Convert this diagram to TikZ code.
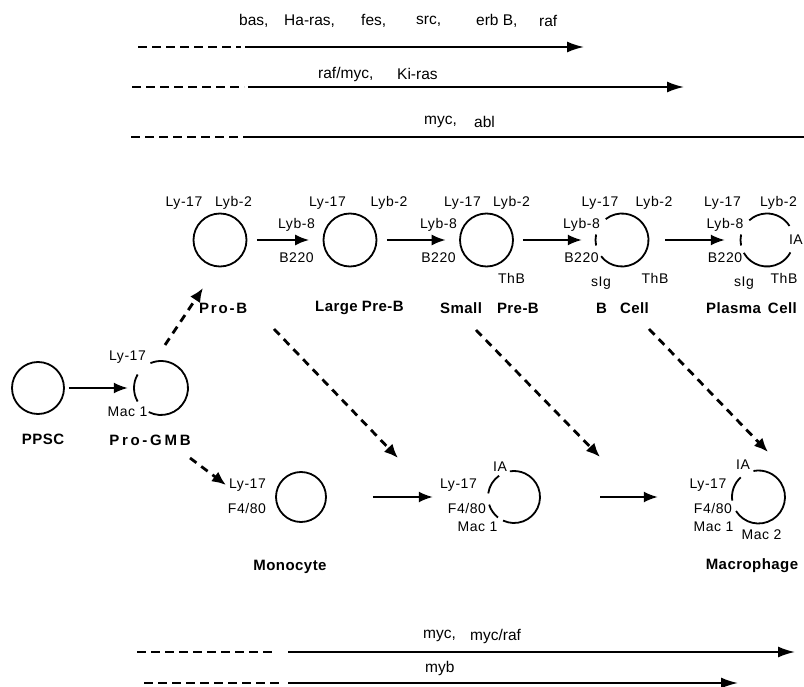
\documentclass[tikz,border=0pt]{standalone}
\usepackage{fontspec}
\setmainfont{Liberation Sans}
\newfontfamily\labfont[LetterSpace=4]{Liberation Sans}
\newfontfamily\namefont[LetterSpace=3]{Liberation Sans}
\newfontfamily\widefont[LetterSpace=12]{Liberation Sans}
\newfontfamily\widerfont[LetterSpace=18]{Liberation Sans}
\usetikzlibrary{arrows.meta}
\begin{document}
\begin{tikzpicture}[x=1pt,y=-1pt,
  gene/.style={font=\fontsize{15.5}{17}\selectfont, inner sep=0pt, anchor=west},
  mk/.style={font=\labfont\fontsize{14}{16}\selectfont, inner sep=0pt},
  cname/.style={font=\namefont\bfseries\fontsize{15}{17}\selectfont, inner sep=0pt},
  cellc/.style={circle, draw, line width=1.8pt, minimum size=53pt, inner sep=0pt},
  cellh/.style={circle, minimum size=53pt, inner sep=0pt},
  arr/.style={line width=1.9pt, -{Latex[length=14pt,width=11pt]}},
  darr/.style={line width=2.8pt, dash pattern=on 8pt off 6pt, -{Latex[length=14pt,width=12pt]}},
  gline/.style={line width=1.9pt},
  garr/.style={line width=1.9pt, -{Latex[length=17pt,width=11pt]}},
  gdash/.style={line width=1.9pt, dash pattern=on 9pt off 5pt},
  memb/.style={line width=1.8pt}
]
\useasboundingbox (0,0) rectangle (804,687);

% ---------- top oncogene lines ----------
\node[gene] (g1) at (239,21) {bas,};
\node[gene] (g2) at (284,21) {Ha-ras,};
\node[gene] (g3) at (361,21) {fes,};
\node[gene] (g4) at (416,21) {src,};
\node[gene] (g5) at (476,21) {erb B,};
\node[gene] (g6) at (539,21) {raf};
\coordinate (l1a) at (138,47); \coordinate (l1b) at (245,47); \coordinate (l1c) at (584,47);
\draw[gdash] (l1a) -- (241,47);
\draw[garr] (l1b) -- (l1c);

\node[gene] (g7) at (318,74) {raf/myc,};
\node[gene] (g8) at (397,74) {Ki-ras};
\coordinate (l2a) at (132,87); \coordinate (l2b) at (248,87); \coordinate (l2c) at (684,87);
\draw[gdash] (l2a) -- (244,87);
\draw[garr] (l2b) -- (l2c);

\node[gene] (g9) at (424,122) {myc,};
\node[gene] (g10) at (474,122) {abl};
\coordinate (l3a) at (131,137); \coordinate (l3b) at (243,137); \coordinate (l3c) at (804,137);
\draw[gdash] (l3a) -- (239,137);
\draw[gline] (l3b) -- (l3c);

% ---------- B lineage row ----------
\node[cellc] (prob) at (220,240) {};
\node[cellc] (lpreb) at (350,240) {};
\node[cellc] (spreb) at (486.5,240) {};
\node[cellh] (bcell) at (622,240) {};
\node[cellh] (pcell) at (767,240) {};

% B cell membrane
\draw[memb] ([shift={(142:26.5)}]bcell.center) arc[start angle=142,end angle=-128,radius=26.5];
\draw[memb] ([shift={(-168:26.5)}]bcell.center) arc[start angle=-168,end angle=-192,radius=26.5];
% plasma cell membrane
\draw[memb] ([shift={(-32:26.5)}]pcell.center) arc[start angle=-32,end angle=-132,radius=26.5];
\draw[memb] ([shift={(-209:26.5)}]pcell.center) arc[start angle=-209,end angle=-332,radius=26.5];
\draw[memb] ([shift={(-168:26.5)}]pcell.center) arc[start angle=-168,end angle=-192,radius=26.5];

\draw[arr, shorten <=9.5pt, shorten >=13.5pt] (prob) -- (lpreb);
\draw[arr, shorten <=9.5pt, shorten >=13.5pt] (lpreb) -- (spreb);
\draw[arr, shorten <=9pt, shorten >=13.5pt] (spreb) -- (bcell);
\draw[arr, shorten <=16.5pt, shorten >=15.5pt] (bcell) -- (pcell);

% markers
\node[mk] (m1) at (184,203) {Ly-17};
\node[mk] (m2) at (233.5,203) {Lyb-2};
\node[mk] (m3) at (296.5,225) {Lyb-8};
\node[mk] (m4) at (296.5,258) {B220};
\node[mk] (m5) at (327.5,203) {Ly-17};
\node[mk] (m6) at (389,203) {Lyb-2};
\node[mk] (m7) at (438.5,225) {Lyb-8};
\node[mk] (m8) at (438.5,258) {B220};
\node[mk] (m9) at (462.5,203) {Ly-17};
\node[mk] (m10) at (511.5,203) {Lyb-2};
\node[mk] (m11) at (511.5,278) {ThB};
\node[mk] (m12) at (600,203) {Ly-17};
\node[mk] (m13) at (654,203) {Lyb-2};
\node[mk] (m14) at (581.5,225) {Lyb-8};
\node[mk] (m15) at (581.5,258) {B220};
\node[mk] (m16) at (601,283) {sIg};
\node[mk] (m17) at (655,278) {ThB};
\node[mk] (m18) at (722.5,203) {Ly-17};
\node[mk] (m19) at (778.5,203) {Lyb-2};
\node[mk] (m20) at (725,225) {Lyb-8};
\node[mk] (m21) at (725,258) {B220};
\node[mk] (m22) at (744,283) {sIg};
\node[mk] (m23) at (784,278) {ThB};
\node[mk, anchor=east] (m24) at (803,240) {IA};

% cell names
\node[cname, anchor=west, font=\widefont\bfseries\fontsize{15}{17}\selectfont] (nprob) at (199,308) {Pro-B};
\node[cname, anchor=west] (nlpreb) at (315,308) {Large\hspace{4pt}Pre-B};
\node[cname, anchor=west] (nspreb) at (440,308) {Small\hspace{15pt}Pre-B};
\node[cname, anchor=west] (nbcell) at (596,308) {B\hspace{13pt}Cell};
\node[cname, anchor=west] (npcell) at (706,308) {Plasma\hspace{7pt}Cell};

% ---------- PPSC / Pro-GMB ----------
\node[cellc, minimum size=52pt] (ppsc) at (38,388) {};
\node[cellh, minimum size=54pt] (progmb) at (161,388) {};
\draw[memb] ([shift={(117:27)}]progmb.center) arc[start angle=117,end angle=-113,radius=27];
\draw[memb] ([shift={(-150:27)}]progmb.center) arc[start angle=-150,end angle=-210,radius=27];
\draw[arr, shorten <=4pt, shorten >=6pt] (ppsc) -- (progmb);
\node[mk] (m25) at (127.5,357) {Ly-17};
\node[mk] (m26) at (127.5,412) {Mac 1};
\node[cname] (nppsc) at (43,439) {PPSC};
\node[cname, font=\widerfont\bfseries\fontsize{15}{17}\selectfont] (nprogmb) at (150,440) {Pro-GMB};

% ---------- myeloid row ----------
\node[cellc, minimum size=50pt] (mono) at (301,497) {};
\node[cellh, minimum size=52pt] (mmac) at (514,497) {};
\node[cellh] (rmac) at (758.5,497) {};
\draw[memb] ([shift={(115:26)}]mmac.center) arc[start angle=115,end angle=-99,radius=26];
\draw[memb] ([shift={(-125:26)}]mmac.center) arc[start angle=-125,end angle=-172,radius=26];
\draw[memb] ([shift={(-197:26)}]mmac.center) arc[start angle=-197,end angle=-232,radius=26];
\draw[memb] ([shift={(148:26.5)}]rmac.center) arc[start angle=148,end angle=-101,radius=26.5];
\draw[memb] ([shift={(-132:26.5)}]rmac.center) arc[start angle=-132,end angle=-188,radius=26.5];

\draw[arr, shorten <=46pt, shorten >=55pt] (mono) -- (mmac);
\draw[arr, shorten <=60pt, shorten >=74pt] (mmac) -- (rmac);

\node[mk] (m27) at (247.5,485) {Ly-17};
\node[mk] (m28) at (247,508) {F4/80};
\node[mk] (m29) at (500,467) {IA};
\node[mk] (m30) at (458.5,485) {Ly-17};
\node[mk] (m31) at (467,508) {F4/80};
\node[mk] (m32) at (477.5,527) {Mac 1};
\node[mk] (m33) at (743,465) {IA};
\node[mk] (m34) at (708,485) {Ly-17};
\node[mk] (m35) at (713,508) {F4/80};
\node[mk] (m36) at (713.5,527) {Mac 1};
\node[mk] (m37) at (761.5,535) {Mac 2};

\node[cname] (nmono) at (290,567) {Monocyte};
\node[cname] (nmac) at (752,566) {Macrophage};

% ---------- dashed lineage arrows ----------
\coordinate (d0a) at (165,345); \coordinate (d0b) at (203,288);
\coordinate (dma) at (190,458); \coordinate (dmb) at (226,485);
\coordinate (d1a) at (274,329); \coordinate (d1b) at (398,458);
\coordinate (d2a) at (476,330); \coordinate (d2b) at (600,457);
\coordinate (d3a) at (649,329); \coordinate (d3b) at (768,452);
\draw[darr] (d0a) -- (d0b);
\draw[darr] (dma) -- (dmb);
\draw[darr] (d1a) -- (d1b);
\draw[darr] (d2a) -- (d2b);
\draw[darr] (d3a) -- (d3b);

% ---------- bottom lines ----------
\node[gene] (g11) at (423,636) {myc,};
\node[gene] (g12) at (470,636) {myc/raf};
\coordinate (b1a) at (137,652); \coordinate (b1b) at (288,652); \coordinate (b1c) at (795,652);
\draw[gdash] (b1a) -- (275,652);
\draw[garr] (b1b) -- (b1c);
\node[gene] (g13) at (425,668) {myb};
\coordinate (b2a) at (144,683); \coordinate (b2b) at (288,683); \coordinate (b2c) at (738,683);
\draw[gdash] (b2a) -- (282,683);
\draw[garr] (b2b) -- (b2c);
\end{tikzpicture}
\end{document}
